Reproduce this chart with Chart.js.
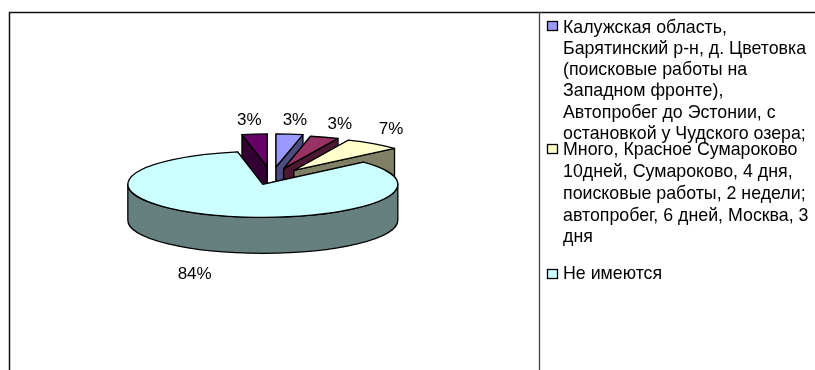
<!DOCTYPE html>
<html>
<head>
<meta charset="utf-8">
<script src="https://cdn.jsdelivr.net/npm/chart.js@4"></script>
<style>
  html, body { margin: 0; padding: 0; background: #fff; }
  canvas { display: block; }
</style>
</head>
<body>
<canvas id="myChart" width="815" height="370"></canvas>
<script>
// only three of the five categories are named in the legend
var categories = ["Калужская область", "", "Много", "Не имеются", ""];
var shares = [3.2, 3.4, 6.8, 83.6, 3.0];

var topColors = ["#9999FF", "#993366", "#FFFFCC", "#CCFFFF", "#660066"];
var wallColors = ["#4C4C80", "#4C1933", "#808066", "#668080", "#330033"];

var legendBlocks = [
  { color: "#9999FF", swatchY: 21, lineY: [28, 49, 70, 91, 113, 134], lines: ["Калужская область,", "Барятинский р-н, д. Цветовка", "(поисковые работы на", "Западном фронте),", "Автопробег до Эстонии, с", "остановкой у Чудского озера;"] },
  { color: "#FFFFCC", swatchY: 144, lineY: [150, 172, 194, 216, 237], lines: ["Много, Красное Сумароково", "10дней, Сумароково, 4 дня,", "поисковые работы, 2 недели;", "автопробег, 6 дней, Москва, 3", "дня"] },
  { color: "#CCFFFF", swatchY: 269, lineY: [274], lines: ["Не имеются"] }
];

// pie look
var tilt = 0.245;
var depth = 36;
var explode = [45, 40, 38, 27, 45];
var paintOrder = [4, 0, 1, 2, 3];
var labelDx = [2, 5, -2, -14, -2];
var labelDy = [1, 2, 1, 3, 1];
var fontName = "'Liberation Sans', Arial, sans-serif";

function sliceGeometry(arc, i) {
  var mid = (arc.startAngle + arc.endAngle) / 2;
  return {
    mid: mid,
    ox: arc.x + Math.cos(mid) * explode[i],
    oy: arc.y + Math.sin(mid) * explode[i] * tilt,
    r: arc.outerRadius
  };
}

function drawRadialWall(ctx, g, angle) {
  var ex = g.ox + Math.cos(angle) * g.r;
  var ey = g.oy + Math.sin(angle) * g.r * tilt;
  ctx.beginPath();
  ctx.moveTo(g.ox, g.oy);
  ctx.lineTo(ex, ey);
  ctx.lineTo(ex, ey + depth);
  ctx.lineTo(g.ox, g.oy + depth);
  ctx.closePath();
  ctx.fill();
  ctx.stroke();
}

function drawOuterWall(ctx, g, start, end) {
  var a0 = Math.max(start, 0);
  var a1 = Math.min(end, Math.PI);
  if (a1 <= a0) return;
  ctx.beginPath();
  ctx.ellipse(g.ox, g.oy, g.r, g.r * tilt, 0, a0, a1);
  ctx.ellipse(g.ox, g.oy + depth, g.r, g.r * tilt, 0, a1, a0, true);
  ctx.closePath();
  ctx.fill();
  ctx.stroke();
}

function drawSlice(ctx, arc, i) {
  var g = sliceGeometry(arc, i);

  ctx.save();
  ctx.fillStyle = wallColors[i];
  ctx.strokeStyle = "#000";
  ctx.lineWidth = 1.3;
  ctx.lineJoin = "round";
  drawRadialWall(ctx, g, arc.startAngle);
  drawRadialWall(ctx, g, arc.endAngle);
  drawOuterWall(ctx, g, arc.startAngle, arc.endAngle);
  ctx.restore();

  // the arc itself is drawn by Chart.js, flattened
  ctx.save();
  ctx.translate(g.ox, g.oy);
  ctx.scale(1, tilt);
  ctx.translate(-arc.x, -arc.y);
  arc.draw(ctx);
  ctx.restore();

  ctx.save();
  ctx.strokeStyle = "#000";
  ctx.lineWidth = 1.3;
  ctx.lineJoin = "round";
  ctx.beginPath();
  ctx.moveTo(g.ox, g.oy);
  ctx.ellipse(g.ox, g.oy, g.r, g.r * tilt, 0, arc.startAngle, arc.endAngle);
  ctx.closePath();
  ctx.stroke();
  ctx.restore();
}

function drawLabels(ctx, arcs) {
  var total = shares.reduce(function (a, b) { return a + b; }, 0);
  ctx.save();
  ctx.fillStyle = "#000";
  ctx.font = "17px " + fontName;
  ctx.textAlign = "center";
  ctx.textBaseline = "middle";
  arcs.forEach(function (arc, i) {
    var g = sliceGeometry(arc, i);
    var s = Math.sin(g.mid);
    var x = g.ox + Math.cos(g.mid) * g.r * 1.25 + labelDx[i];
    var y = g.oy + s * g.r * tilt + (s > 0 ? depth + 20 : -15) + labelDy[i];
    ctx.fillText(Math.round(shares[i] / total * 100) + "%", x, y);
  });
  ctx.restore();
}

function drawFrame(ctx) {
  ctx.save();
  ctx.strokeStyle = "#111";
  ctx.lineWidth = 1.5;
  ctx.beginPath();
  ctx.moveTo(815, 12.5);
  ctx.lineTo(9.5, 12.5);
  ctx.lineTo(9.5, 370);
  ctx.stroke();
  ctx.strokeStyle = "#444";
  ctx.lineWidth = 1.3;
  ctx.beginPath();
  ctx.moveTo(539.5, 12);
  ctx.lineTo(539.5, 370);
  ctx.stroke();
  ctx.restore();
}

function drawLegend(ctx) {
  ctx.save();
  ctx.font = "17.8px " + fontName;
  ctx.textAlign = "left";
  ctx.textBaseline = "middle";
  legendBlocks.forEach(function (block) {
    ctx.fillStyle = block.color;
    ctx.strokeStyle = "#000";
    ctx.lineWidth = 1.3;
    ctx.fillRect(547.5, block.swatchY + 0.5, 10, 9);
    ctx.strokeRect(547.5, block.swatchY + 0.5, 10, 9);
    ctx.fillStyle = "#000";
    block.lines.forEach(function (line, n) {
      ctx.fillText(line, 563, block.lineY[n]);
    });
  });
  ctx.restore();
}

var pie3d = {
  id: "pie3d",
  beforeDatasetDraw: function (chart, args) {
    var arcs = args.meta.data;
    paintOrder.forEach(function (i) {
      drawSlice(chart.ctx, arcs[i], i);
    });
    drawLabels(chart.ctx, arcs);
    return false;
  },
  afterDraw: function (chart) {
    drawFrame(chart.ctx);
    drawLegend(chart.ctx);
  }
};

var ctx = document.getElementById("myChart").getContext("2d");
var chart = new Chart(ctx, {
  type: "pie",
  data: {
    labels: categories,
    datasets: [{
      data: shares,
      backgroundColor: topColors,
      borderWidth: 0,
      radius: 135
    }]
  },
  options: {
    responsive: false,
    animation: false,
    layout: { padding: { left: 0, right: 272, top: 0, bottom: 14 } },
    plugins: {
      legend: { display: false },
      tooltip: { enabled: false }
    }
  },
  plugins: [pie3d]
});
</script>
</body>
</html>
